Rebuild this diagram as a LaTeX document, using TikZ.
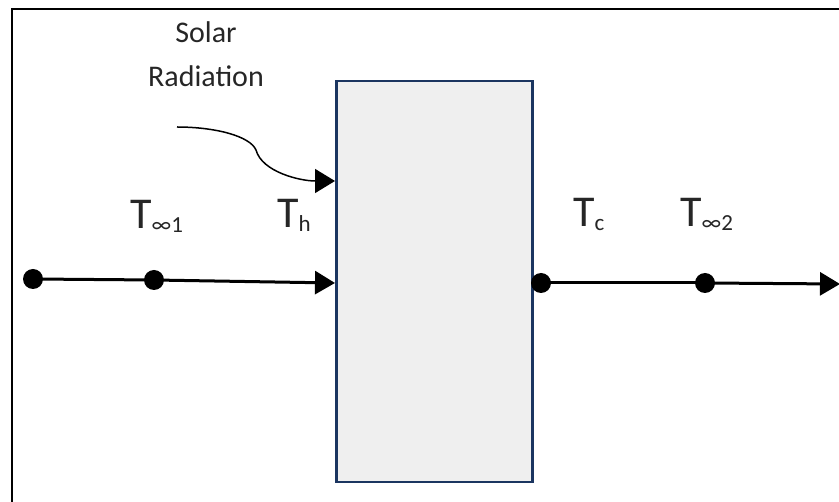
\documentclass[tikz,border=0pt]{standalone}
\usepackage{fontspec}
\setmainfont{Carlito}
\usetikzlibrary{arrows.meta}
\definecolor{boxfill}{HTML}{EFEFEF}
\definecolor{boxline}{HTML}{1B3560}
\definecolor{txt}{HTML}{262626}
\tikzset{
  dotnode/.style={circle,fill=black,inner sep=0pt,minimum width=18pt,minimum height=20pt},
  mainline/.style={line width=3pt,-{Triangle[length=20pt,width=23pt]}},
  plainline/.style={line width=3pt},
  lbl/.style={anchor=base west,inner sep=0pt,text=txt},
  sol/.style={anchor=base,inner sep=0pt,text=txt,font=\fontsize{30}{36}\selectfont},
}
\newcommand{\Tlab}[1]{{\fontsize{44}{50}\selectfont T}\raisebox{-4pt}{\fontsize{23}{26}\selectfont #1}}
\begin{document}
\begin{tikzpicture}[x=1pt,y=-1pt]
\useasboundingbox (0,0) rectangle (839,502);
% frame
\draw[line width=2pt] (12,502) -- (12,9) -- (845,9);
% wall
\node[draw=boxline,fill=boxfill,line width=2.5pt,minimum width=196pt,minimum height=401pt,inner sep=0pt,anchor=north west] (box) at (335,80) {};
% labels
\node[sol] (solar) at (206,43) {Solar};
\node[sol] (rad) at (206,87) {Radiation};
\node[lbl] (tinf1) at (130,229) {\Tlab{∞1}};
\node[lbl] (th) at (277,228) {\Tlab{h}};
\node[lbl] (tc) at (573,227) {\Tlab{c}};
\node[lbl] (tinf2) at (680,227) {\Tlab{∞2}};
% coordinates
\coordinate (hin) at (335,283);
\coordinate (sin) at (335,181);
\coordinate (sstart) at (177,127);
\coordinate (rend) at (840,284);
% dots
\node[dotnode] (d1) at (33,279) {};
\node[dotnode] (d2) at (154,280) {};
\node[dotnode] (d3) at (541,283) {};
\node[dotnode] (d4) at (705,283) {};
% connectors
\draw[plainline] (d1.center) -- (d2.center);
\draw[mainline] (d2.center) -- (hin);
\draw[plainline] (d3.center) -- (d4.center);
\draw[mainline] (d4.center) -- (rend);
\draw[line width=1.5pt,-{Triangle[length=20pt,width=24pt]}] (sstart) .. controls (215,127) and (250,136) .. (256,150) .. controls (262,172) and (300,181) .. (sin);
\end{tikzpicture}
\end{document}
